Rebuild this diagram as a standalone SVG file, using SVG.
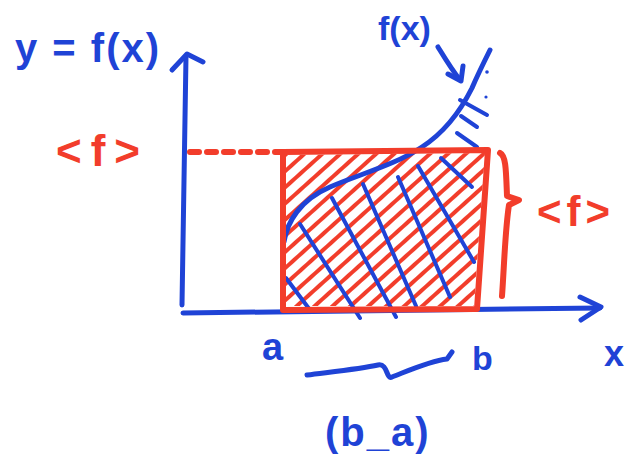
<svg xmlns="http://www.w3.org/2000/svg" width="640" height="465" viewBox="0 0 640 465">
<style>
.b{stroke:#1f43d6;fill:none;stroke-width:5;stroke-linecap:round;stroke-linejoin:round}
.r{stroke:#f23d2b;fill:none;stroke-width:6;stroke-linecap:round;stroke-linejoin:round}
.rh{stroke:#f23d2b;stroke-width:3.8;stroke-linecap:round}
.bh{stroke:#1f43d6;stroke-width:4;stroke-linecap:round;fill:none}
.tb{fill:#1f43d6;font-family:"Liberation Sans","DejaVu Sans",sans-serif;font-weight:bold}
.tr{fill:#f23d2b;font-family:"Liberation Sans","DejaVu Sans",sans-serif;font-weight:bold}
</style>
<defs>
<pattern id="redHatch" width="12" height="12" patternUnits="userSpaceOnUse" patternTransform="rotate(-42)">
<line x1="0" y1="6" x2="12" y2="6" class="rh"/>
</pattern>
</defs>
<rect width="640" height="465" fill="#ffffff"/>
<g id="red-hatch"><polygon points="286,155 485,153 474,306 286,306" fill="url(#redHatch)"/></g>
<g id="blue-hatch">
<line class="bh" x1="286" y1="278" x2="310" y2="310"/>
<line class="bh" x1="300" y1="224" x2="360" y2="318"/>
<line class="bh" x1="332" y1="198" x2="396" y2="317"/>
<line class="bh" x1="363" y1="184" x2="416" y2="306"/>
<line class="bh" x1="398" y1="177" x2="450" y2="297"/>
<line class="bh" x1="418" y1="166" x2="474" y2="262"/>
<line class="bh" x1="441" y1="158" x2="472" y2="187"/>
<line class="bh" x1="460" y1="100" x2="487" y2="115"/>
<line class="bh" x1="461" y1="116" x2="477" y2="127"/>
<line class="bh" x1="457" y1="133" x2="477" y2="147"/>
<circle cx="486" cy="97" r="1.6" fill="#1f43d6"/>
<circle cx="487" cy="72" r="1.8" fill="#1f43d6"/>
</g>
<g id="axes">
<line class="b" x1="182" y1="305" x2="186" y2="56"/>
<polyline class="b" points="172,70 187,54 203,62"/>
<line class="b" x1="183" y1="313" x2="600" y2="308"/>
<polyline class="b" points="580,297 601,307 581,320"/>
</g>
<g id="curve">
<path class="b" d="M284,242 C287,222 300,200 330,187 C360,174 395,165 422,147 C445,132 462,108 472,88 C478,74 484,62 490,50"/>
</g>
<g id="rectangle">
<line class="r" x1="190" y1="152" x2="283" y2="152" stroke-dasharray="9,8" stroke-width="4"/>
<polygon class="r" points="283,152 488,150 477,309 283,310"/>
<path class="r" d="M500,153 C506,156 506,170 507,196 L519,200 L509,205 C505,230 504,270 502,296"/>
</g>
<g id="brace">
<path class="b" d="M307,375 C330,372 360,369 378,365 C388,363 386,380 392,377 C410,370 430,361 447,359 L452,352"/>
</g>
<g id="fx-arrow">
<path class="b" d="M438,47 C446,60 452,70 460,80"/>
<polyline class="b" points="448,74 461,81 463,66"/>
</g>
<g id="labels">
<text class="tb" x="15" y="62" font-size="40" letter-spacing="2">y = f(x)</text>
<text class="tb" x="378" y="40" font-size="34">f(x)</text>
<text class="tr" x="56" y="166" font-size="44" letter-spacing="9">&lt;f&gt;</text>
<text class="tr" x="537" y="226" font-size="42" letter-spacing="5">&lt;f&gt;</text>
<text class="tb" x="262" y="360" font-size="38">a</text>
<text class="tb" x="472" y="370" font-size="34">b</text>
<text class="tb" x="604" y="366" font-size="36">x</text>
<text class="tb" x="325" y="446" font-size="40" letter-spacing="2">(b_a)</text>
</g>
</svg>
